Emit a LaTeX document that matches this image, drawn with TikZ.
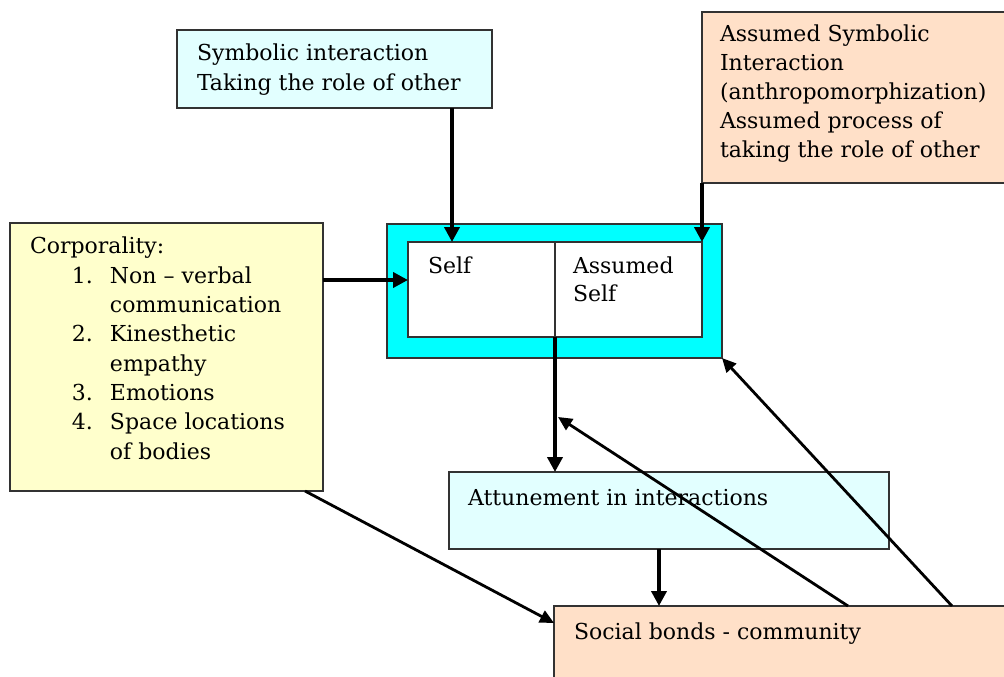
\documentclass[tikz,border=0pt]{standalone}
\usepackage{fontspec}
\setmainfont{DejaVu Serif}
\usetikzlibrary{arrows.meta,calc}
\definecolor{lcyan}{RGB}{226,255,255}
\definecolor{peach}{RGB}{255,224,200}
\definecolor{lyellow}{RGB}{255,255,204}
\definecolor{bcyan}{RGB}{0,255,255}
\definecolor{edge}{RGB}{50,50,50}
\begin{document}
\begin{tikzpicture}[x=1pt,y=-1pt,
  box/.style={draw=edge, line width=1.4pt, inner sep=0pt, outer sep=0pt, anchor=north west},
  txt/.style={anchor=base west, inner sep=0pt, outer sep=0pt, font=\fontsize{22}{29.3}\selectfont, align=left},
  thk/.style={line width=4.6pt, -{Triangle[length=15pt,width=15pt]}},
  thn/.style={line width=2.8pt, -{Triangle[length=14pt,width=13pt]}}]
\useasboundingbox (0,0) rectangle (1004,677);
\clip (0,0) rectangle (1004,677);
% boxes
\node[box, fill=lcyan, minimum width=315pt, minimum height=78pt] (sym) at (177,30) {};
\node[box, fill=peach, minimum width=340pt, minimum height=171pt] (asm) at (702,12) {};
\node[box, fill=lyellow, minimum width=313pt, minimum height=268pt] (corp) at (10,223) {};
\node[box, fill=bcyan, minimum width=335pt, minimum height=134pt] (outer) at (387,224) {};
\node[box, fill=white, minimum width=294pt, minimum height=95pt] (inner) at (408,242) {};
\draw[edge, line width=1.4pt] (inner.north) -- (inner.south);
\node[box, fill=lcyan, minimum width=440pt, minimum height=77pt] (att) at (449,472) {};
\node[box, fill=peach, minimum width=480pt, minimum height=100pt] (soc) at (554,606) {};
% texts (base anchor = baseline of last line)
\node[txt, font=\fontsize{22}{31}\selectfont] (symt) at (197,91) {Symbolic interaction\\Taking the role of other};
\node[txt, font=\fontsize{22}{28.8}\selectfont] (asmt) at (720,157) {Assumed Symbolic\\Interaction\\(anthropomorphization)\\Assumed process of\\taking the role of other};
\node[txt] (corpt) at (30,459) {Corporality:\\
\hspace*{42pt}\makebox[38pt][l]{1.}Non – verbal\\
\hspace*{80pt}communication\\
\hspace*{42pt}\makebox[38pt][l]{2.}Kinesthetic\\
\hspace*{80pt}empathy\\
\hspace*{42pt}\makebox[38pt][l]{3.}Emotions\\
\hspace*{42pt}\makebox[38pt][l]{4.}Space locations\\
\hspace*{80pt}of bodies};
\node[txt] (selft) at (428,273) {Self};
\node[txt, font=\fontsize{22}{28}\selectfont] (aselft) at (573,301) {Assumed\\Self};
\node[txt] (attt) at (468,505) {Attunement in interactions};
\node[txt] (soct) at (574,639) {Social bonds - community};
% connectors
\draw[thk] ([xshift=275pt]sym.south west) -- ([xshift=44pt]inner.north west);
\draw[thk] (asm.south west) -- (inner.north east);
\draw[thk] ([yshift=-57pt]corp.north east) -- ([yshift=-38pt]inner.north west);
\draw[thk] (inner.south) -- (inner.south |- att.north);
\draw[thk] ([xshift=210pt]att.south west) -- ([xshift=105pt]soc.north west);
\draw[thn] ([xshift=-18pt]corp.south east) -- ([yshift=-17pt]soc.north west);
\coordinate (mid) at ($(inner.south)+(3,80)$);
\draw[thn] ([xshift=294pt]soc.north west) -- (mid);
\draw[thn] ([xshift=398pt]soc.north west) -- (outer.south east);
\end{tikzpicture}
\end{document}
